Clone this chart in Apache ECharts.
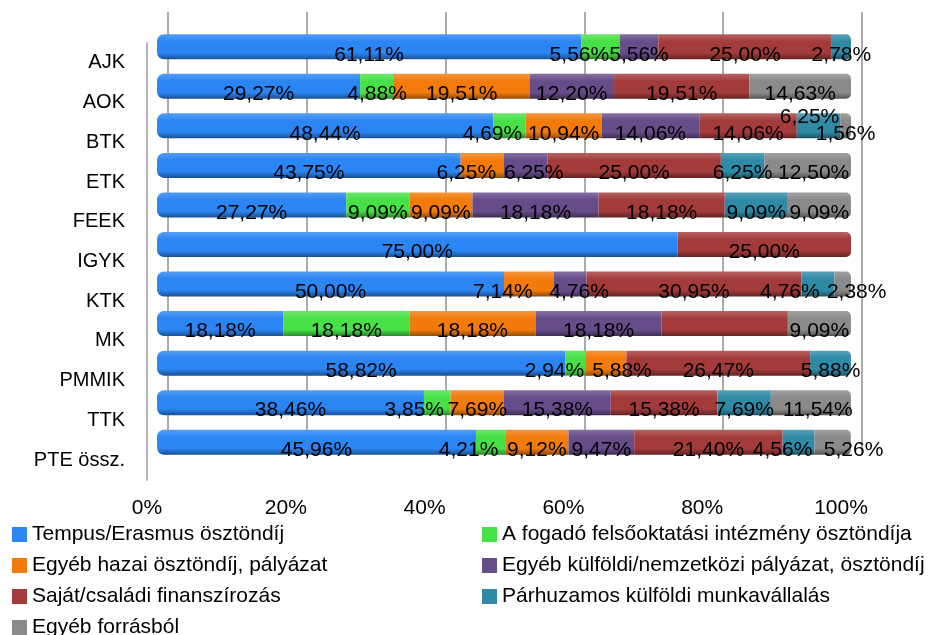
<!DOCTYPE html>
<html>
<head>
<meta charset="utf-8" />
<script src="https://cdn.jsdelivr.net/npm/echarts@6/dist/echarts.min.js"></script>
<style>html, body { margin: 0; padding: 0; background: #fff; }</style>
</head>
<body>
<div id="main" style="width: 940px; height: 635px"></div>
<script type="text/javascript">
// categories and the seven funding sources (percent of students)
var categories = ["AJK", "AOK", "BTK", "ETK", "FEEK", "IGYK", "KTK", "MK", "PMMIK", "TTK", "PTE össz."];
var seriesNames = [
  "Tempus/Erasmus ösztöndíj",
  "A fogadó felsőoktatási intézmény ösztöndíja",
  "Egyéb hazai ösztöndíj, pályázat",
  "Egyéb külföldi/nemzetközi pályázat, ösztöndíj",
  "Saját/családi finanszírozás",
  "Párhuzamos külföldi munkavállalás",
  "Egyéb forrásból"
];
var tempus     = [61.11, 29.27, 48.44, 43.75, 27.27, 75.00, 50.00, 18.18, 58.82, 38.46, 45.96];
var fogado     = [5.56, 4.88, 4.69, 0, 9.09, 0, 0, 18.18, 2.94, 3.85, 4.21];
var hazai      = [0, 19.51, 10.94, 6.25, 9.09, 0, 7.14, 18.18, 5.88, 7.69, 9.12];
var kulfoldi   = [5.56, 12.20, 14.06, 6.25, 18.18, 0, 4.76, 18.18, 0, 15.38, 9.47];
var sajat      = [25.00, 19.51, 14.06, 25.00, 18.18, 25.00, 30.95, 18.18, 26.47, 15.38, 21.40];
var parhuzamos = [2.78, 0, 6.25, 6.25, 9.09, 0, 4.76, 0, 5.88, 7.69, 4.56];
var egyeb      = [0, 14.63, 1.56, 12.50, 9.09, 0, 2.38, 9.09, 0, 11.54, 5.26];
var xTicks = ["0%", "20%", "40%", "60%", "80%", "100%"];

var values = [tempus, fogado, hazai, kulfoldi, sajat, parhuzamos, egyeb];
var colors = ["#2b85f2", "#47e047", "#f27b0c", "#674c8a", "#a33b3b", "#2f8aa6", "#8a8a8a"];

// label nudges like the original (Excel pushed colliding labels apart)
var nudges = {
  "AJK,1": [-21, 0], "BTK,1": [-17, 0], "BTK,5": [-9, -17],
  "ETK,2": [-16, 0], "ETK,3": [8, 0], "ETK,6": [6, 0],
  "KTK,2": [-26, 0], "KTK,3": [9, 0], "KTK,5": [-28, 0], "KTK,6": [14, 0],
  "PMMIK,1": [-21, 0], "PMMIK,2": [16, 0],
  "TTK,1": [-23, 0], "TTK,6": [7, 0],
  "PTE össz.,1": [-22, 0], "PTE össz.,5": [-16, 0], "PTE össz.,6": [21, 0]
};
var hidden = { "MK,4": true };

function mix(hex, target, t) {
  var a = parseInt(hex.slice(1), 16), b = parseInt(target.slice(1), 16);
  var r = Math.round(((a >> 16) & 255) * (1 - t) + ((b >> 16) & 255) * t);
  var g = Math.round(((a >> 8) & 255) * (1 - t) + ((b >> 8) & 255) * t);
  var bl = Math.round((a & 255) * (1 - t) + (b & 255) * t);
  return "rgb(" + r + "," + g + "," + bl + ")";
}
function shade(c) {
  return new echarts.graphic.LinearGradient(0, 0, 0, 1, [
    { offset: 0, color: mix(c, "#ffffff", 0.2) },
    { offset: 0.3, color: c },
    { offset: 0.75, color: c },
    { offset: 1, color: mix(c, "#000000", 0.4) }
  ]);
}
function fmt(v) { return v.toFixed(2).replace(".", ",") + "%"; }

// index of the last non-empty segment in each row (gets the rounded end)
var lastIdx = categories.map(function (c, ci) {
  var last = 0;
  values.forEach(function (arr, si) { if (arr[ci] > 0) last = si; });
  return last;
});

var series = values.map(function (arr, si) {
  return {
    name: seriesNames[si],
    type: "bar",
    stack: "total",
    xAxisIndex: 1,
    yAxisIndex: 1,
    barWidth: 25,
    itemStyle: { color: shade(colors[si]) },
    data: arr.map(function (v, ci) {
      var key = categories[ci] + "," + si;
      var off = nudges[key] || [0, 0];
      var rad = [si === 0 ? 7 : 0, lastIdx[ci] === si ? 5 : 0, lastIdx[ci] === si ? 5 : 0, si === 0 ? 7 : 0];
      return {
        value: v,
        itemStyle: { borderRadius: rad },
        label: {
          show: v > 0 && !hidden[key],
          offset: [off[0], 8 + off[1]]
        }
      };
    }),
    label: {
      position: "inside",
      color: "#000",
      fontSize: 21,
      fontFamily: "Liberation Sans",
      formatter: function (p) { return fmt(p.value); }
    }
  };
});

// legend: two columns, one small legend per entry (left column = even series)
var legends = seriesNames.map(function (name, i) {
  return {
    left: i % 2 === 0 ? 12 : 482,
    top: 524 + Math.floor(i / 2) * 31,
    padding: 0, icon: "rect",
    itemWidth: 15, itemHeight: 15,
    textStyle: { fontSize: 21, color: "#000" },
    data: [{ name: name, itemStyle: { color: colors[i] } }]
  };
});

var myChart = echarts.init(document.getElementById("main"));
var option = {
  animation: false,
  textStyle: { fontFamily: "Liberation Sans" },
  grid: [
    { left: 147, right: 99, top: 43, bottom: 155 },   // front plane: labels
    { left: 157, right: 89, top: 27, bottom: 173 },   // bars
    { left: 168, right: 78, top: 12, bottom: 180 }    // back wall gridlines
  ],
  xAxis: [
    {
      gridIndex: 0, type: "value", min: 0, max: 100, interval: 20,
      axisLine: { show: false }, axisTick: { show: false }, splitLine: { show: false },
      axisLabel: {
        color: "#000", fontSize: 21, margin: 18,
        formatter: function (v) { return xTicks[Math.round(v / 20)]; }
      }
    },
    { gridIndex: 1, type: "value", min: 0, max: 100, show: false },
    {
      gridIndex: 2, type: "value", min: 0, max: 100, interval: 20,
      axisLine: { show: false }, axisTick: { show: false }, axisLabel: { show: false },
      splitLine: { show: true, lineStyle: { color: "#ababab", width: 2 } }
    }
  ],
  yAxis: [
    {
      gridIndex: 0, type: "category", data: categories, inverse: true,
      axisTick: { show: false },
      axisLine: { show: true, lineStyle: { color: "#b5b5b5", width: 2 } },
      axisLabel: { color: "#000", fontSize: 20, margin: 22 }
    },
    { gridIndex: 1, type: "category", data: categories, inverse: true, show: false },
    { gridIndex: 2, type: "category", data: categories, inverse: true, show: false }
  ],
  legend: legends,
  series: series
};
myChart.setOption(option);
</script>
</body>
</html>
